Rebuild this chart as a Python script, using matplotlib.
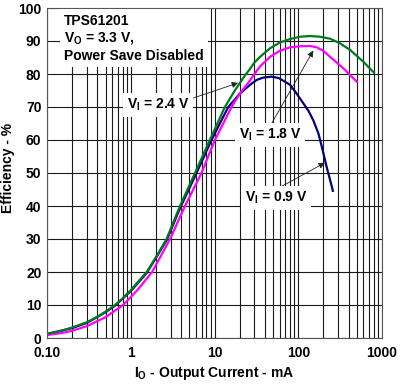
import matplotlib
matplotlib.use("Agg")
import matplotlib.pyplot as plt
from matplotlib.ticker import NullFormatter, LogLocator

plt.rcParams['font.family'] = ['Liberation Sans', 'DejaVu Sans']
plt.rcParams['font.weight'] = 'bold'
plt.rcParams['axes.labelweight'] = 'bold'
plt.rcParams['mathtext.fontset'] = 'custom'
plt.rcParams['mathtext.rm'] = 'Liberation Sans:bold'
plt.rcParams['mathtext.bf'] = 'Liberation Sans:bold'

# ---- data ----
i_24 = [0.1, 0.15, 0.2, 0.3, 0.4, 0.5, 0.65, 0.8, 1.0, 1.55, 2.0, 2.68, 3.87, 5.85,
        8.8, 13.3, 17.1, 20, 23, 26.5, 30, 35, 46, 60, 80, 105, 138, 182, 240, 315,
        415, 600, 800]
e_24 = [1.3, 2.2, 3.2, 4.8, 6.4, 8.0, 10, 12, 14.5, 20, 24.5, 30, 40, 50,
        60, 70, 74.6, 77.2, 79.5, 81.5, 83.5, 85.2, 87.8, 89.5, 90.6, 91.3, 91.5, 91.3, 90.7, 89.3,
        87.3, 83.7, 80.4]

i_18 = [0.1, 0.15, 0.2, 0.3, 0.39, 0.5, 0.81, 1.2, 1.8, 2.95, 4.44, 7.0, 10.1, 16,
        20, 26.5, 29, 35, 46, 60, 80, 105, 138, 166, 200, 240, 346, 500]
e_18 = [0.9, 1.5, 2.2, 3.6, 5.0, 6.3, 10, 14.5, 20, 30, 40, 50, 60, 70,
        74, 78, 79.5, 82.3, 85.2, 87, 88.1, 88.4, 88.5, 88.1, 87, 85.2, 81.7, 77.7]

i_09 = [0.1, 0.2, 0.3, 0.5, 0.65, 1.0, 1.55, 2.68, 3.9, 6.1, 9.2, 14.6, 20, 26.5,
        31.9, 38, 48, 58, 66, 80, 95.5, 115, 132, 151, 174, 191, 218, 240, 259]
e_09 = [1.2, 3.0, 4.6, 7.8, 9.8, 14.2, 19.7, 29.6, 39.5, 50, 60, 70, 74, 76.7,
        78.2, 78.9, 79.2, 78.8, 78, 76.7, 74.1, 71.1, 68.9, 66, 62, 58, 51.9, 47.9, 44.6]

x_ticks = [0.1, 1, 10, 100, 1000]
x_ticklabels = ["0.10", "1", "10", "100", "1000"]
y_ticks = list(range(0, 101, 10))

FS = 10

fig = plt.figure(figsize=(4.14, 3.86), dpi=100)
ax = fig.add_axes([47/414, 1-338/386, (382-47)/414, (338-8)/386])

ax.set_xscale('log')
ax.set_xlim(0.1, 1000)
ax.set_ylim(0, 100)

ax.set_xticks(x_ticks)
ax.set_xticklabels(x_ticklabels)
ax.xaxis.set_minor_locator(LogLocator(base=10, subs=range(2, 10)))
ax.xaxis.set_minor_formatter(NullFormatter())
ax.set_yticks(y_ticks)

ax.set_axisbelow(True)
ax.grid(True, which='major', color='#1a1a1a', lw=0.8)
ax.grid(True, which='minor', axis='x', color='#1a1a1a', lw=0.8)
ax.tick_params(which='both', length=0)
ax.tick_params(axis='x', pad=6, labelsize=FS)
ax.tick_params(axis='y', pad=4, labelsize=FS)
for s in ax.spines.values():
    s.set_color('#555555')
    s.set_linewidth(0.8)

ax.plot(i_09, e_09, color='#000080', lw=1.6, zorder=2)
ax.plot(i_18, e_18, color='#FF00FF', lw=1.6, zorder=2)
ax.plot(i_24, e_24, color='#007A1F', lw=1.6, zorder=2.1)

ax.set_xlabel(r"I$_\mathregular{O}$ - Output Current - mA", fontsize=FS, fontweight='bold', labelpad=3)
ax.set_ylabel("Efficiency - %", fontsize=FS, fontweight='bold')
ax.yaxis.set_label_coords(-0.097, 0.515)

box = dict(boxstyle='square,pad=0.25', fc='white', ec='none')
ax.text(0.05, 0.983, "TPS61201\n" + r"V$_\mathregular{O}$ = 3.3 V," + "\nPower Save Disabled",
        transform=ax.transAxes, ha='left', va='top', fontsize=FS, linespacing=1.25,
        bbox=dict(boxstyle='square,pad=0.3', fc='white', ec='none'), zorder=3)

arrow = dict(arrowstyle='-|>', color='#222222', lw=0.6, mutation_scale=9, shrinkA=0, shrinkB=0)
ax.annotate("", xy=(19.1, 77.3), xytext=(5.54, 72.7), arrowprops=arrow, zorder=3)
ax.annotate("", xy=(151, 87.1), xytext=(48.6, 65.2), arrowprops=arrow, zorder=3)
ax.annotate("", xy=(208, 53.1), xytext=(57.8, 45.4), arrowprops=arrow, zorder=3)

ax.text(2.12, 70.6, r"V$_\mathregular{I}$ = 2.4 V", ha='center', va='center', fontsize=FS, bbox=box, zorder=4)
ax.text(46, 61.5, r"V$_\mathregular{I}$ = 1.8 V", ha='center', va='center', fontsize=FS, bbox=box, zorder=4)
ax.text(54, 42.4, r"V$_\mathregular{I}$ = 0.9 V", ha='center', va='center', fontsize=FS, bbox=box, zorder=4)

fig.savefig("out.png", dpi=100)
